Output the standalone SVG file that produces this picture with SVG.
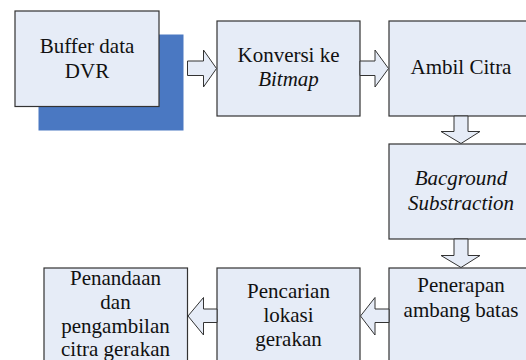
<svg xmlns="http://www.w3.org/2000/svg" width="526" height="360" viewBox="0 0 526 360">
<defs>
<style>
.box{fill:#E6ECF7;stroke:#333;stroke-width:1.2}
.arr{fill:#E6ECF7;stroke:#333;stroke-width:1}
.lbl{font-family:'Liberation Serif','Times New Roman',Times,serif;font-size:21px;fill:#111;text-anchor:middle}
.it{font-style:italic}
</style>
</defs>
<rect width="526" height="360" fill="#fff"/>
<g id="buffer">
<rect x="38.5" y="34.5" width="145" height="96" fill="#4A78C2"/>
<rect class="box" x="15" y="11" width="144" height="95.5"/>
<text class="lbl" font-family="Liberation Serif, serif" x="87" y="53">Buffer data</text>
<text class="lbl" font-family="Liberation Serif, serif" x="87" y="78">DVR</text>
</g>
<g id="konversi">
<rect class="box" x="217" y="21" width="143" height="95"/>
<text class="lbl" font-family="Liberation Serif, serif" x="288.5" y="62">Konversi ke</text>
<text class="lbl it" font-family="Liberation Serif, serif" x="288.5" y="86">Bitmap</text>
</g>
<g id="ambil">
<rect class="box" x="389" y="21" width="144" height="95"/>
<text class="lbl" font-family="Liberation Serif, serif" x="461" y="74">Ambil Citra</text>
</g>
<g id="background">
<rect class="box" x="389" y="144" width="144" height="95"/>
<text class="lbl it" font-family="Liberation Serif, serif" x="461" y="185">Bacground</text>
<text class="lbl it" font-family="Liberation Serif, serif" x="461" y="210">Substraction</text>
</g>
<g id="penerapan">
<rect class="box" x="389" y="268" width="144" height="100"/>
<text class="lbl" font-family="Liberation Serif, serif" x="461" y="292">Penerapan</text>
<text class="lbl" font-family="Liberation Serif, serif" x="461" y="317">ambang batas</text>
</g>
<g id="pencarian">
<rect class="box" x="217" y="268" width="143" height="100"/>
<text class="lbl" font-family="Liberation Serif, serif" x="288.5" y="298">Pencarian</text>
<text class="lbl" font-family="Liberation Serif, serif" x="288.5" y="322">lokasi</text>
<text class="lbl" font-family="Liberation Serif, serif" x="288.5" y="346">gerakan</text>
</g>
<g id="penandaan">
<rect class="box" x="44" y="268" width="143.5" height="100"/>
<text class="lbl" font-family="Liberation Serif, serif" x="115.5" y="285">Penandaan</text>
<text class="lbl" font-family="Liberation Serif, serif" x="115.5" y="308.5">dan</text>
<text class="lbl" font-family="Liberation Serif, serif" x="115.5" y="332.5">pengambilan</text>
<text class="lbl" font-family="Liberation Serif, serif" x="115.5" y="356">citra gerakan</text>
</g>
<g id="connectors">
<polygon class="arr" points="187.5,61 203.5,61 203.5,50 216.5,68.5 203.5,87 203.5,75.5 187.5,75.5"/>
<polygon class="arr" points="360,61 375,61 375,50 388.5,68.5 375,87 375,75.5 360,75.5"/>
<polygon class="arr" points="454,116 468,116 468,131.5 480,131.5 461,143.5 441,131.5 454,131.5"/>
<polygon class="arr" points="454,239 468,239 468,255.5 480,255.5 461,267.5 441,255.5 454,255.5"/>
<polygon class="arr" points="389,309 375,309 375,297.5 360.5,316 375,335 375,322.5 389,322.5"/>
<polygon class="arr" points="217,309 203.5,309 203.5,297.5 188,316 203.5,335 203.5,322.5 217,322.5"/>
</g>
</svg>
